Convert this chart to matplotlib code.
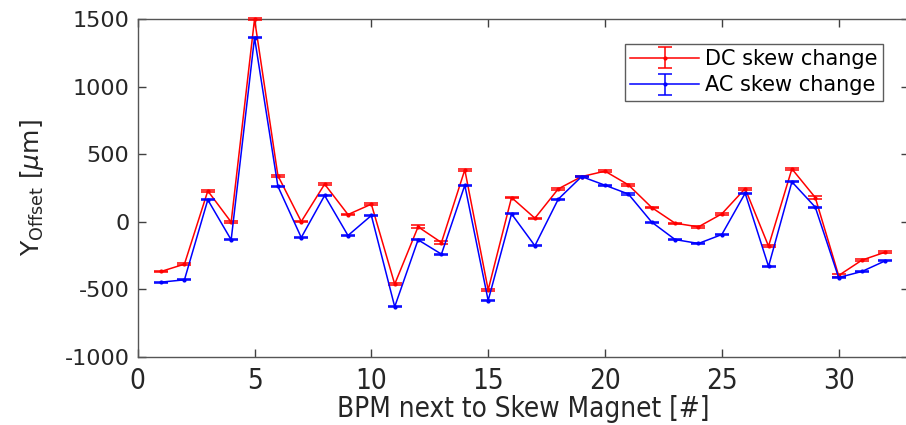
import numpy as np
import matplotlib
matplotlib.use("Agg")
import matplotlib.pyplot as plt

bpm = list(range(1, 33))

dc_offset = [-367, -313, 229, -2, 1500, 342, 2, 279, 54, 131,
             -461, -37, -153, 385, -503, 180, 27, 244, 335, 375,
             274, 106, -10, -37, 59, 246, -180, 392, 180, -397,
             -283, -224]
dc_err = [6, 6, 8, 10, 10, 8, 5, 6, 5, 5,
          6, 10, 8, 8, 8, 5, 5, 5, 5, 6,
          6, 5, 5, 5, 5, 8, 6, 10, 10, 10,
          6, 5]

ac_offset = [-446, -429, 163, -133, 1363, 263, -116, 195, -101, 47,
             -628, -133, -239, 271, -582, 59, -177, 168, 335, 271,
             206, -2, -131, -160, -94, 212, -330, 296, 109, -412,
             -367, -288]
ac_err = [4, 4, 4, 4, 4, 4, 4, 4, 4, 4,
          4, 4, 4, 4, 4, 4, 4, 4, 4, 4,
          4, 4, 4, 4, 4, 4, 4, 4, 4, 4,
          4, 4]

x_ticks = [0, 5, 10, 15, 20, 25, 30]
y_ticks = [-1000, -500, 0, 500, 1000, 1500]

plt.rcParams['font.family'] = ['DejaVu Sans']
plt.rcParams['axes.unicode_minus'] = False

fig = plt.figure(figsize=(9.06, 4.25), dpi=100)
ax = fig.add_axes([0.152, 0.16, 0.851, 0.795])

ax.errorbar(bpm, dc_offset, yerr=dc_err, color='#ff0000', lw=1.1,
            marker='.', markersize=4, capsize=5, capthick=1.1,
            elinewidth=1.1, label='DC skew change', clip_on=False, zorder=3)
ax.errorbar(bpm, ac_offset, yerr=ac_err, color='#0000ff', lw=1.1,
            marker='.', markersize=4, capsize=5, capthick=1.1,
            elinewidth=1.1, label='AC skew change', zorder=4)

ax.set_xlim(0, 33)
ax.set_ylim(-1000, 1500)
ax.set_xticks(x_ticks)
ax.set_yticks(y_ticks)

for s in ax.spines.values():
    s.set_color('#555555')
    s.set_linewidth(1.0)
ax.tick_params(direction='in', length=6, width=1.0, color='#404040',
               top=True, right=True, labelcolor='#262626')
ax.tick_params(axis='y', labelsize=16, pad=6)
ax.tick_params(axis='x', labelsize=20, pad=7)
for lab in ax.get_xticklabels():
    lab.set_fontstretch('condensed')

ax.set_ylabel(r'Y$_{\mathrm{Offset}}$ [$\mu$m]', fontsize=18, color='#262626',
              labelpad=13)
ax.set_xlabel('BPM next to Skew Magnet [#]', fontsize=20, color='#262626',
              fontstretch='condensed', labelpad=0)

leg = ax.legend(loc='upper right', bbox_to_anchor=(0.975, 0.945), fontsize=15,
                frameon=True, fancybox=False, borderpad=0.25,
                handlelength=3.3, handletextpad=0.3, labelspacing=0.3,
                borderaxespad=0.3)
leg.get_frame().set_edgecolor('#333333')
leg.get_frame().set_linewidth(1.0)

fig.savefig('out.png', dpi=100)
